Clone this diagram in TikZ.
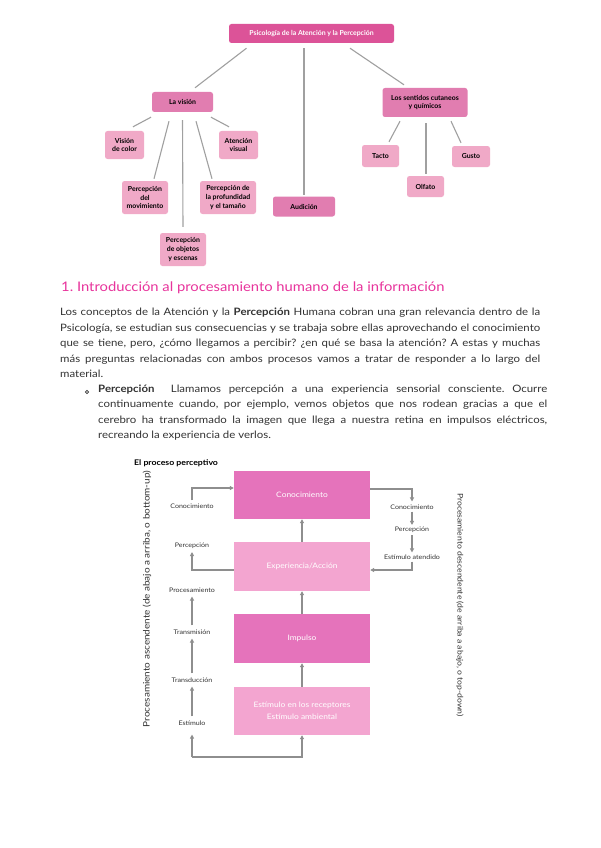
\documentclass[tikz,border=0pt]{standalone}
\usepackage{fontspec}
\setmainfont{Lato}[FakeStretch=1.12]
\newfontfamily\cmfont{Lato}
\usetikzlibrary{arrows.meta}
\frenchspacing
\definecolor{rootpink}{HTML}{DC5398}
\definecolor{midpink}{HTML}{E17DB0}
\definecolor{lightpink}{HTML}{F0A9C7}
\definecolor{headpink}{HTML}{E8349C}
\definecolor{darkbox}{HTML}{E573BB}
\definecolor{lightbox}{HTML}{F3A5D0}
\definecolor{arrgray}{HTML}{8E8E8E}
\definecolor{linegray}{HTML}{A0A0A0}
\definecolor{bodytext}{HTML}{333333}
\tikzset{
  cmbox/.style={rounded corners=2.5pt, align=center, inner sep=1pt,
    font=\cmfont\bfseries\fontsize{6.9}{8.8}\selectfont, text=black},
  cmroot/.style={cmbox, fill=rootpink, text=white},
  cmmid/.style={cmbox, fill=midpink},
  cmleaf/.style={cmbox, fill=lightpink},
  cmline/.style={draw=linegray, line width=1.1pt},
  flowbox/.style={minimum width=136pt, align=center, inner sep=1pt, text=white,
    font=\fontsize{7.5}{12}\selectfont},
  flowdark/.style={flowbox, fill=darkbox},
  flowlight/.style={flowbox, fill=lightbox},
  steplabel/.style={font=\fontsize{6.3}{7.5}\selectfont, text=bodytext, inner sep=1pt},
  arr/.style={draw=arrgray, line width=1.2pt, -{Triangle[length=4pt,width=4pt]}},
}
\begin{document}
\begin{tikzpicture}[x=1pt,y=-1pt]
\useasboundingbox[fill=white] (0,0) rectangle (600,848);

% ---------- concept map ----------
\node[cmroot, minimum width=165pt, minimum height=19pt] (root) at (311.5,33.5) {Psicología de la Atención y la Percepción};
\node[cmmid, minimum width=61pt, minimum height=20pt] (vision) at (182.5,102) {La visión};
\node[cmmid, minimum width=85pt, minimum height=29pt] (sentidos) at (425,102.5) {Los sentidos cutaneos\\y químicos};
\node[cmmid, minimum width=62pt, minimum height=20pt] (audicion) at (304,206.5) {Audición};
\node[cmleaf, minimum width=39pt, minimum height=28pt] (color) at (124.5,145) {Visión\\de color};
\node[cmleaf, minimum width=39pt, minimum height=28pt] (atencion) at (238.5,145) {Atención\\visual};
\node[cmleaf, minimum width=46pt, minimum height=33pt] (movimiento) at (145,197.5) {Percepción\\del\\movimiento};
\node[cmleaf, minimum width=56pt, minimum height=33pt] (profundidad) at (228,197.5) {Percepción de\\la profundidad\\y el tamaño};
\node[cmleaf, minimum width=46pt, minimum height=33pt] (objetos) at (183,249.5) {Percepción\\de objetos\\y escenas};
\node[cmleaf, minimum width=37pt, minimum height=22pt] (tacto) at (380.5,156) {Tacto};
\node[cmleaf, minimum width=38pt, minimum height=21pt] (gusto) at (471,156.5) {Gusto};
\node[cmleaf, minimum width=37pt, minimum height=21pt] (olfato) at (425.5,186.5) {Olfato};

\draw[cmline] ([xshift=-65pt,yshift=-5pt]root.south) -- ([xshift=12.5pt,yshift=4pt]vision.north);
\draw[cmline] ([yshift=-5pt]root.south -| audicion.north) -- ([yshift=1pt]audicion.north);
\draw[cmline] ([xshift=38.5pt,yshift=-5pt]root.south) -- ([xshift=-21pt,yshift=3pt]sentidos.north);

\draw[cmline] ([xshift=-31.5pt,yshift=-5pt]vision.south) -- ([xshift=8.5pt,yshift=4pt]color.north);
\draw[cmline] ([xshift=-13.5pt,yshift=-9pt]vision.south) -- ([xshift=9pt,yshift=2pt]movimiento.north);
\draw[cmline] ([yshift=-8pt]vision.south) -- ([yshift=6pt]objetos.north);
\draw[cmline] ([xshift=13.5pt,yshift=-9pt]vision.south) -- ([xshift=-16pt,yshift=2pt]profundidad.north);
\draw[cmline] ([xshift=28.5pt,yshift=-5pt]vision.south) -- ([xshift=-9.5pt,yshift=4pt]atencion.north);

\draw[cmline] ([xshift=-25pt,yshift=-4pt]sentidos.south) -- ([xshift=8.5pt,yshift=3pt]tacto.north);
\draw[cmline] ([xshift=1pt,yshift=-6pt]sentidos.south) -- ([xshift=0.5pt,yshift=2pt]olfato.north);
\draw[cmline] ([xshift=26pt,yshift=-4pt]sentidos.south) -- ([xshift=-10pt,yshift=3pt]gusto.north);

% ---------- heading and text ----------
\node[anchor=west, inner sep=0pt, text=headpink, font=\fontsize{13.2}{16}\selectfont] (head) at (61,288) {1. Introducción al procesamiento humano de la información};

\node[anchor=north west, inner sep=0pt, text width=480pt, align=justify, text=bodytext,
  font=\fontsize{10.2}{15.5}\selectfont] (para) at (60,308)
 {Los conceptos de la Atención y la \textbf{Percepción} Humana cobran una gran relevancia dentro de la\linebreak
 Psicología, se estudian sus consecuencias y se trabaja sobre ellas aprovechando el conocimiento\linebreak
 que se tiene, pero, ¿cómo llegamos a percibir? ¿en qué se basa la atención? A estas y muchas\linebreak
 más preguntas relacionadas con ambos procesos vamos a tratar de responder a lo largo del\linebreak
 material.};

\node[draw=bodytext, circle, inner sep=0pt, minimum size=3.2pt, line width=0.6pt] (bullet) at (87,392) {};
\node[anchor=north west, inner sep=0pt, text width=449pt, align=justify, text=bodytext,
  font=\fontsize{10.2}{15.2}\selectfont] (bulltext) at (98,385)
 {\textbf{Percepción}\hspace{1.6em}Llamamos percepción a una experiencia sensorial consciente. Ocurre\linebreak
 continuamente cuando, por ejemplo, vemos objetos que nos rodean gracias a que el\linebreak
 cerebro ha transformado la imagen que llega a nuestra retina en impulsos eléctricos,\linebreak
 recreando la experiencia de verlos.};

% ---------- process diagram ----------
\node[anchor=west, inner sep=0pt, font=\bfseries\fontsize{7.8}{9}\selectfont] (ptitle) at (134,463) {El proceso perceptivo};

\node[flowdark, minimum height=48pt] (con) at (302,495) {Conocimiento};
\node[flowlight, minimum height=49pt] (exp) at (302,566.5) {Experiencia/Acción};
\node[flowdark, minimum height=49pt] (imp) at (302,638.5) {Impulso};
\node[flowlight, minimum height=48pt] (est) at (302,711) {Estímulo en los receptores\\Estímulo ambiental};

\draw[arr] (exp.north) -- (con.south);
\draw[arr] (imp.north) -- (exp.south);
\draw[arr] (est.north) -- (imp.south);

\node[steplabel] (lcon) at (192,506) {Conocimiento};
\node[steplabel] (lper) at (192,546) {Percepción};
\node[steplabel] (lpro) at (192,590) {Procesamiento};
\node[steplabel] (ltra) at (192,632) {Transmisión};
\node[steplabel] (ltrd) at (192,680) {Transducción};
\node[steplabel] (lest) at (192,723) {Estímulo};

\draw[arr] ([yshift=2pt]lcon.north) |- ([yshift=7pt]con.west);
\draw[arr] ([yshift=-3.5pt]exp.west) -| ([yshift=-2pt]lper.south);
\draw[arr, shorten <=3pt, shorten >=3pt] (ltra.north) -- (lpro.south);
\draw[arr, shorten <=3pt, shorten >=3pt] (ltrd.north) -- (ltra.south);
\draw[arr, shorten <=3pt, shorten >=3pt] (lest.north) -- (ltrd.south);
\coordinate (bl) at (192,757);
\draw[arr] (bl) -- ([yshift=-8pt]lest.south);
\draw[arr] (bl) -| (est.south);

\node[steplabel] (rcon) at (412,507) {Conocimiento};
\node[steplabel] (rper) at (412,530) {Percepción};
\node[steplabel] (ratt) at (412,557) {Estímulo atendido};
\draw[arr] ([yshift=6pt]con.east) -| ([yshift=2pt]rcon.north);
\draw[arr, shorten <=1pt, shorten >=1pt] (rcon.south) -- (rper.north);
\draw[arr, shorten <=1pt, shorten >=1pt] (rper.south) -- (ratt.north);
\draw[arr] ([yshift=-1pt]ratt.south) |- ([yshift=-3.5pt]exp.east);

\node[rotate=90, text=bodytext, inner sep=0pt, font=\fontsize{8.9}{10}\selectfont] (asc) at (147,599) {Procesamiento ascendente (de abajo a arriba, o bottom-up)};
\node[rotate=-90, text=bodytext, inner sep=0pt, font=\fontsize{7.7}{9}\selectfont] (desc) at (460,605) {Procesamiento descendente (de arriba a abajo, o top-down)};
\end{tikzpicture}
\end{document}
